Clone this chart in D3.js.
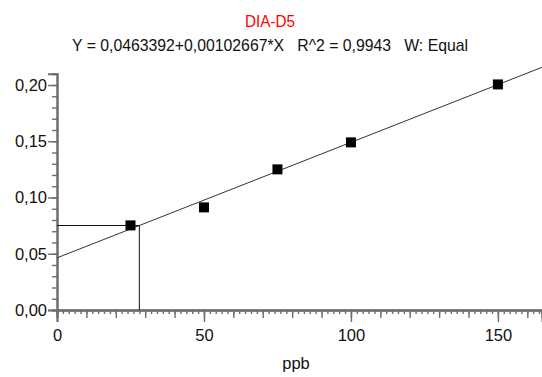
<!DOCTYPE html>
<html>
<head>
<meta charset="utf-8">
<script src="https://cdn.jsdelivr.net/npm/d3@7"></script>
<style>
  body { margin: 0; background: #fff; }
  text { font-family: "Liberation Sans", Arial, sans-serif; }
</style>
</head>
<body>
<div id="chart"></div>
<script>
// calibration standards (ppb vs response)
const concentrations = [25, 50, 75, 100, 150];
const responses = [0.0752, 0.0912, 0.1250, 0.1490, 0.2005];
const intercept = 0.0463392;
const slope = 0.00102667;
const sampleResponse = 0.0751;
const xTicks = [0, 50, 100, 150];
const yTicks = [0, 0.05, 0.10, 0.15, 0.20];
const titleText = "DIA-D5";
const subtitleText = "Y = 0,0463392+0,00102667*X   R^2 = 0,9943   W: Equal";
const xLabel = "ppb";

const width = 542, height = 377;
const svg = d3.select("#chart").append("svg")
    .attr("width", width).attr("height", height);

const x = d3.scaleLinear().domain([0, 165]).range([57, 542]);
const y = d3.scaleLinear().domain([0, 0.21]).range([310, 73.75]);

const axisColor = "#6e6e6e";
const fmt = d => d3.format(".2f")(d).replace(".", ",");

// x axis: major every 50, medium every 10, minor every 2
const xg = svg.append("g").attr("transform", "translate(0," + y(0) + ")");
xg.append("g").call(d3.axisBottom(x).tickValues(d3.range(0, 166, 2)).tickSize(4).tickFormat(""));
xg.append("g").call(d3.axisBottom(x).tickValues(d3.range(0, 166, 10)).tickSize(8).tickFormat(""));
xg.append("g").call(d3.axisBottom(x).tickValues(xTicks).tickSize(12).tickFormat(d3.format("d")));
xg.selectAll("path.domain").attr("stroke", axisColor).attr("stroke-width", 2);
xg.selectAll(".tick line").attr("stroke", axisColor).attr("stroke-width", 1.4);
xg.selectAll(".tick text").attr("font-size", 16.5).attr("fill", "#111").attr("dy", "0.9em").attr("y", 16);

// y axis: major every 0.05, minor every 0.01
const yg = svg.append("g").attr("transform", "translate(" + x(0) + ",0)");
yg.append("g").call(d3.axisLeft(y).tickValues(d3.range(0, 22).map(i => i / 100)).tickSize(5).tickFormat(""));
yg.append("g").call(d3.axisLeft(y).tickValues(yTicks).tickSize(9).tickFormat(fmt));
yg.selectAll("path.domain").attr("stroke", axisColor).attr("stroke-width", 2);
yg.selectAll(".tick line").attr("stroke", axisColor).attr("stroke-width", 1.4);
yg.selectAll(".tick text").attr("font-size", 16.5).attr("fill", "#111").attr("x", -10);

// regression line
svg.append("line")
    .attr("x1", x(0)).attr("y1", y(intercept))
    .attr("x2", x(165)).attr("y2", y(intercept + slope * 165))
    .attr("stroke", "#333").attr("stroke-width", 1);

// sample read-off lines
const sampleX = (sampleResponse - intercept) / slope;
svg.append("polyline")
    .attr("points", [[x(0), y(sampleResponse)], [x(sampleX), y(sampleResponse)], [x(sampleX), y(0)]].join(" "))
    .attr("fill", "none").attr("stroke", "#111").attr("stroke-width", 1);

// standards
svg.selectAll("rect.pt")
    .data(concentrations)
    .enter().append("rect")
    .attr("class", "pt")
    .attr("x", (d, i) => x(d) - 5)
    .attr("y", (d, i) => y(responses[i]) - 5)
    .attr("width", 10).attr("height", 10)
    .attr("fill", "#000");

// titles
svg.append("text").attr("x", 270).attr("y", 27).attr("text-anchor", "middle")
    .attr("font-size", 16.5).attr("fill", "#ff0000")
    .attr("textLength", 50).attr("lengthAdjust", "spacingAndGlyphs").text(titleText);
svg.append("text").attr("x", 270).attr("y", 51).attr("text-anchor", "middle")
    .attr("font-size", 17).attr("fill", "#111").attr("xml:space", "preserve")
    .attr("textLength", 396).attr("lengthAdjust", "spacingAndGlyphs").text(subtitleText);
svg.append("text").attr("x", 296).attr("y", 369).attr("text-anchor", "middle")
    .attr("font-size", 16.5).attr("fill", "#111").text(xLabel);
</script>
</body>
</html>
